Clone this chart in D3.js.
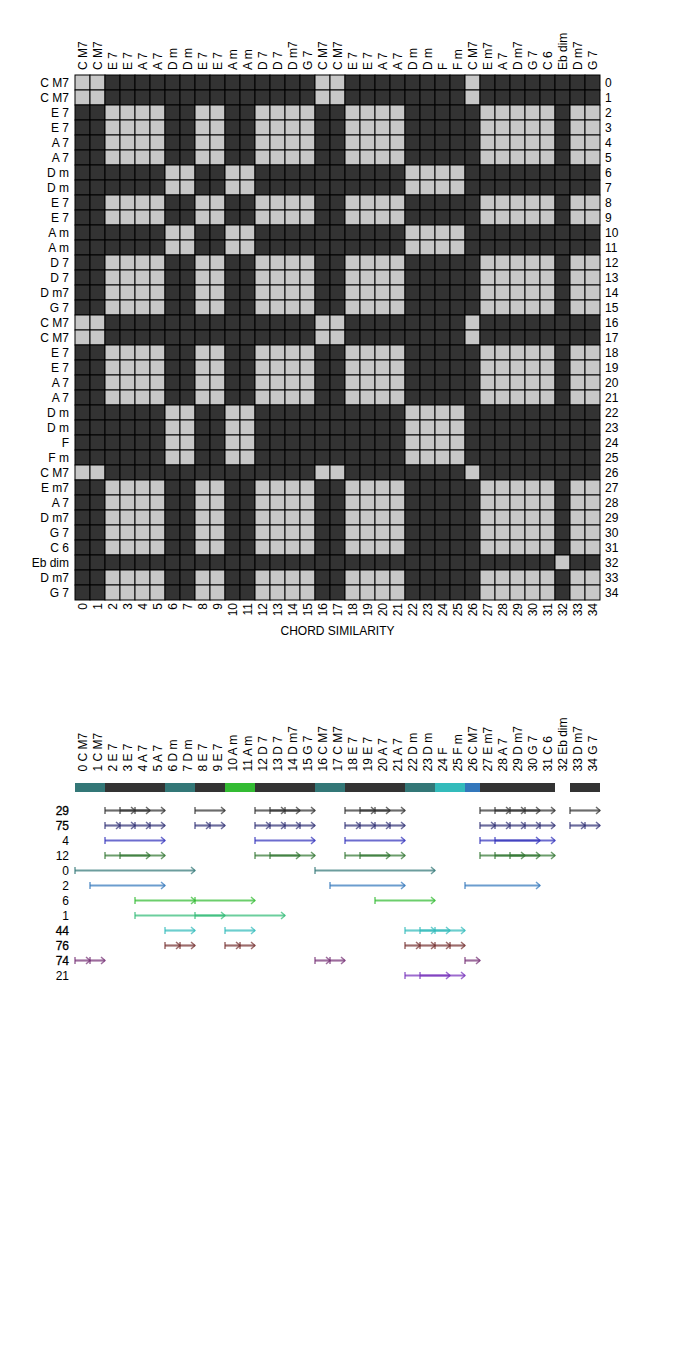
<!DOCTYPE html>
<html>
<head>
<meta charset="utf-8">
<script src="https://cdn.jsdelivr.net/npm/d3@7"></script>
<style>
  html, body { margin: 0; padding: 0; background: #ffffff; }
  svg { display: block; }
  text { font-family: "Liberation Sans", Arial, sans-serif; font-size: 12px; fill: #000; }
</style>
</head>
<body>
<svg id="chart" width="675" height="1370"></svg>
<script>
// ---------------- DATA ----------------
const chords = ["C M7","C M7","E 7","E 7","A 7","A 7","D m","D m","E 7","E 7","A m","A m",
  "D 7","D 7","D m7","G 7","C M7","C M7","E 7","E 7","A 7","A 7","D m","D m","F","F m",
  "C M7","E m7","A 7","D m7","G 7","C 6","Eb dim","D m7","G 7"];
// similarity class of each chord: chords of the same class are "similar"
const chordClass = [0,0,1,1,1,1,2,2,1,1,2,2,1,1,1,1,0,0,1,1,1,1,2,2,2,2,0,1,1,1,1,1,3,1,1];
const axisTitle = "CHORD SIMILARITY";

// colour band under the second panel's labels (null = no band)
const bandColors = ["#337777","#337777","#333333","#333333","#333333","#333333","#337777","#337777",
  "#333333","#333333","#33bb33","#33bb33","#333333","#333333","#333333","#333333","#337777","#337777",
  "#333333","#333333","#333333","#333333","#337777","#337777","#33bbbb","#33bbbb","#3377bb",
  "#333333","#333333","#333333","#333333","#333333",null,"#333333","#333333"];

// motifs: id label, colour, length in chords, start positions of occurrences
const motifIds     = ["29","75","4","12","0","2","6","1","44","76","74","21"];
const motifEmph    = [true,true,false,false,false,false,false,false,true,true,true,false];
const motifColors  = ["#333333","#333377","#3333bb","#337733","#337777","#3377bb","#33bb33","#33bb77","#33bbbb","#773333","#773377","#7733bb"];
const motifLengths = [2,1,4,3,8,5,4,6,2,1,1,3];
const motifStarts  = [
  [2,3,4,8,12,13,14,18,19,20,27,28,29,30,33],
  [2,3,4,5,8,9,12,13,14,15,18,19,20,21,27,28,29,30,31,33,34],
  [2,12,18,27,28],
  [2,3,12,13,18,19,27,28,29],
  [0,16],
  [1,17,26],
  [4,8,20],
  [4,8],
  [6,10,22,23,24],
  [6,7,10,11,22,23,24,25],
  [0,1,16,17,26],
  [22,23]
];

// ---------------- DRAW ----------------
const svg = d3.select("#chart");
const n = chords.length;
const idx = d3.range(n);

const band = d3.scaleBand().domain(idx).range([75, 600]);
const pos = d3.scaleLinear().domain([0, n]).range([75, 600]);
const light = "#c8c8c8", dark = "#333333";

// --- matrix ---
const cells = [];
idx.forEach(r => idx.forEach(c => cells.push({r, c, sim: chordClass[r] === chordClass[c]})));
svg.append("g").selectAll("rect").data(cells).join("rect")
  .attr("x", d => band(d.c)).attr("y", d => band(d.r))
  .attr("width", band.bandwidth()).attr("height", band.bandwidth())
  .attr("fill", d => d.sim ? light : dark)
  .attr("stroke", "#000").attr("stroke-width", 1);

// top column labels
svg.append("g").selectAll("text").data(idx).join("text")
  .attr("transform", i => `translate(${band(i) + band.bandwidth()/2},70) rotate(-90)`)
  .attr("dy", "0.35em").attr("text-anchor", "start")
  .text(i => chords[i]);

// left row labels
svg.append("g").selectAll("text").data(idx).join("text")
  .attr("x", 69).attr("y", i => band(i) + band.bandwidth()/2)
  .attr("dy", "0.35em").attr("text-anchor", "end")
  .text(i => chords[i]);

// right row indices
svg.append("g").selectAll("text").data(idx).join("text")
  .attr("x", 605).attr("y", i => band(i) + band.bandwidth()/2)
  .attr("dy", "0.35em").attr("text-anchor", "start")
  .text(i => i);

// bottom column indices
svg.append("g").selectAll("text").data(idx).join("text")
  .attr("transform", i => `translate(${band(i) + band.bandwidth()/2},603) rotate(-90)`)
  .attr("dy", "0.35em").attr("text-anchor", "end")
  .text(i => i);

svg.append("text").attr("x", 337.5).attr("y", 635).attr("text-anchor", "middle").text(axisTitle);

// --- second panel ---
svg.append("g").selectAll("text").data(idx).join("text")
  .attr("transform", i => `translate(${band(i) + band.bandwidth()/2},771.5) rotate(-90)`)
  .attr("dy", "0.35em").attr("text-anchor", "start")
  .text(i => i + " " + chords[i]);

svg.append("g").selectAll("rect").data(idx.filter(i => bandColors[i])).join("rect")
  .attr("x", i => pos(i)).attr("y", 783)
  .attr("width", i => pos(i + 1) - pos(i)).attr("height", 9)
  .attr("fill", i => bandColors[i]);

const rowY = d3.scaleLinear().domain([0, 1]).range([810.5, 825.5]);

motifIds.forEach((id, k) => {
  const y = rowY(k);
  svg.append("text").attr("x", 69).attr("y", y).attr("dy", "0.35em")
    .attr("text-anchor", "end")
    .attr("stroke", motifEmph[k] ? "#000" : "none")
    .attr("stroke-width", motifEmph[k] ? 0.3 : 0)
    .text(id);
  const g = svg.append("g")
    .attr("stroke", motifColors[k]).attr("fill", "none")
    .attr("stroke-opacity", 0.72).attr("stroke-width", 1.5);
  const occ = g.selectAll("g").data(motifStarts[k]).join("g");
  occ.append("line")
    .attr("x1", s => pos(s)).attr("x2", s => pos(s + motifLengths[k]))
    .attr("y1", y).attr("y2", y).attr("stroke-width", 2.2);
  occ.append("path")
    .attr("d", s => `M${pos(s)},${y - 3.5}V${y + 3.5}`);
  occ.append("path")
    .attr("d", s => { const xe = pos(s + motifLengths[k]); return `M${xe - 4},${y - 3.5}L${xe},${y}L${xe - 4},${y + 3.5}`; });
});
</script>
</body>
</html>
